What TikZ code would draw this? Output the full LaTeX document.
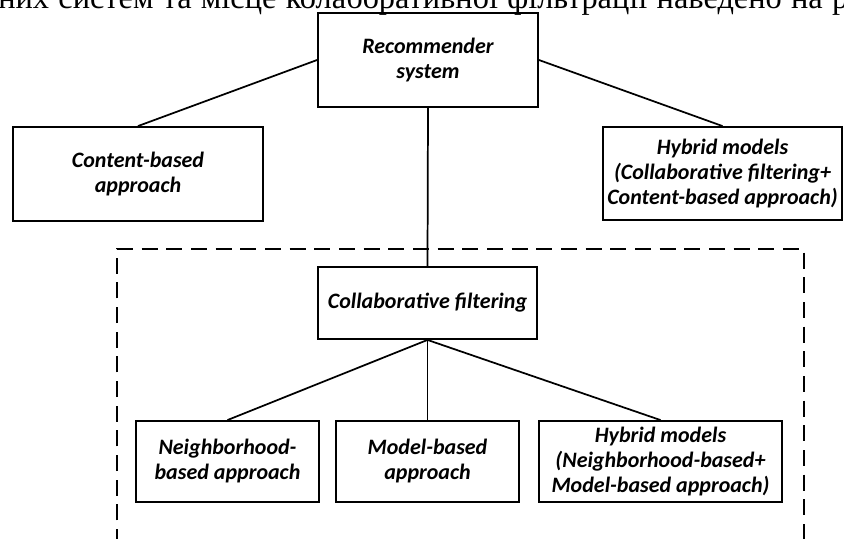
\documentclass[tikz,border=0pt]{standalone}
\usepackage{fontspec}
\setmainfont{Carlito}
\newfontfamily\bodyserif{Liberation Serif}

\begin{document}
\begin{tikzpicture}[
        x=0.75pt, y=-0.75pt,
        box/.style={
            draw,
            line width=1.4pt,
            inner sep=2pt,
            align=center,
            font=\bfseries\itshape\fontsize{16.5}{18.75}\selectfont
        },
        link/.style={line width=1.3pt},
        frame/.style={line width=1.3pt, dash pattern=on 12pt off 6.5pt}
    ]
        \useasboundingbox (0,0) rectangle (844,539);

        % Cut-off line of the surrounding text
        \node[anchor=base west, inner sep=0pt, font=\bodyserif\fontsize{24.3}{26}\selectfont] (txt) at (-2,8)
            {\hbox to 637.5pt{них систем та місце колаборативної фільтрації наведено на р}};

        % Upper level
        \node[box, minimum width=220*0.75pt, minimum height=94*0.75pt] (rs) at (428,60) {Recommender\\system};
        \node[box, minimum width=250*0.75pt, minimum height=94*0.75pt] (cb) at (138,174) {Content-based\\approach};
        \node[box, minimum width=239*0.75pt, minimum height=93*0.75pt] (hy) at (722.5,173.5) {Hybrid models\\(Collaborative filtering+\\Content-based approach)};

        % Dashed frame round collaborative filtering
        \draw[frame] (117,545) -- (117,249) -- (804,249) -- (804,545);

        \node[box, minimum width=219*0.75pt, minimum height=72*0.75pt] (cf) at (427.5,303) {Collaborative filtering};

        \draw[link] (rs.west) -- (cb.north);
        \draw[link] (rs.east) -- (hy.north);
        \draw[link] (rs.south) -- (cf.north);

        % Lower level
        \foreach \name/\cx/\w/\txt in {nb/227.5/183/{Neighborhood-\\based approach},
                mb/427.5/183/{Model-based\\approach},
                hm/660.5/243/{Hybrid models\\(Neighborhood-based+\\Model-based approach)}} {
            \node[box, minimum width=\w*0.75pt, minimum height=81*0.75pt] (\name) at (\cx,461.5) {\txt};
            \draw[link] (cf.south) -- (\name.north);
        }
    \end{tikzpicture}
\end{document}
